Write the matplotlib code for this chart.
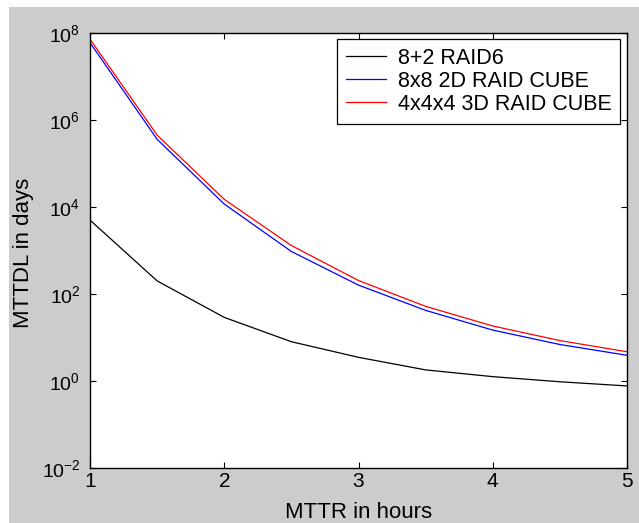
import matplotlib
matplotlib.use("Agg")
import matplotlib.pyplot as plt
from matplotlib.patches import Rectangle

plt.rcParams['font.family'] = ['Liberation Sans', 'DejaVu Sans']
plt.rcParams['mathtext.default'] = 'regular'

mttr_hours = [1, 1.5, 2, 2.5, 3, 3.5, 4, 4.5, 5]
raid6 = [5000, 200, 29, 8, 3.5, 1.8, 1.26, 0.96, 0.77]
cube_2d = [6.0e7, 3.6e5, 1.17e4, 950, 160, 42, 14.8, 6.9, 3.9]
cube_3d = [7.2e7, 4.5e5, 1.5e4, 1300, 204, 52, 18.4, 8.5, 4.7]
series_labels = ['8+2 RAID6', '8x8 2D RAID CUBE', '4x4x4 3D RAID CUBE']
x_ticks = [1, 2, 3, 4, 5]
y_ticks = [1e-2, 1e0, 1e2, 1e4, 1e6, 1e8]

W, H = 639, 523
fig = plt.figure(figsize=(W / 100, H / 100), dpi=100, facecolor='white')
# gray MATLAB-like figure background with thin white strips at top/left
fig.patches.append(Rectangle((9 / W, 0), 1 - 9 / W, 1 - 7 / H, transform=fig.transFigure,
                             facecolor='#cccccc', edgecolor='none', zorder=-10))

ax = fig.add_axes([90 / W, (H - 468) / H, (627 - 90) / W, (468 - 33) / H])
ax.set_facecolor('white')

ax.plot(mttr_hours, raid6, color='black', lw=0.9, label=series_labels[0])
ax.plot(mttr_hours, cube_2d, color='blue', lw=0.9, label=series_labels[1])
ax.plot(mttr_hours, cube_3d, color='red', lw=0.9, label=series_labels[2])

ax.set_yscale('log')
ax.set_xlim(1, 5)
ax.set_ylim(1e-2, 1e8)
ax.set_xticks(x_ticks)
ax.set_xticklabels([str(t) for t in x_ticks])
ax.set_yticks(y_ticks)
ax.yaxis.set_minor_locator(matplotlib.ticker.NullLocator())
ax.tick_params(which='both', direction='in', top=True, right=True, length=4.5, width=0.8,
               colors='black')
ax.tick_params(axis='x', pad=3, labelsize=15)
ax.tick_params(axis='y', pad=7, labelsize=14)
for s in ax.spines.values():
    s.set_linewidth(1.0)
    s.set_color('black')

ax.set_xlabel('MTTR in hours', fontsize=16)
ax.xaxis.set_label_coords(0.5, -0.078)
ax.set_ylabel('MTTDL in days', fontsize=16)
ax.yaxis.set_label_coords(-0.104, 0.495)

leg = ax.legend(loc='upper right', bbox_to_anchor=((620 - 90) / 537, (468 - 39) / 435),
                borderaxespad=0, fancybox=False, edgecolor='black', framealpha=1,
                fontsize=15.5, handlelength=1.85, handletextpad=0.55, labelspacing=0.1,
                borderpad=0.4)
leg.get_frame().set_linewidth(0.9)

fig.savefig('out.png', dpi=100, facecolor=fig.get_facecolor())
